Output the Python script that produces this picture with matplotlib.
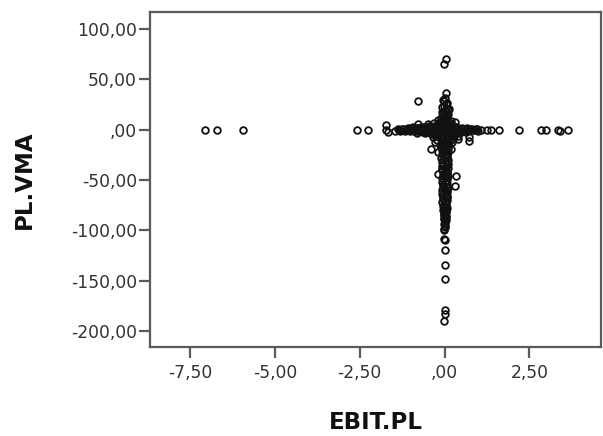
import matplotlib
matplotlib.use("Agg")
import matplotlib.pyplot as plt

# ---- data ----
stray_x = [-7.05, -6.72, -5.94, -2.57, -2.25, -1.74, -1.74, -1.68, -1.45,
           -0.77, 0.03, 0.12, -0.77, -0.50, -0.41, -0.18, 0.18, 0.41, 0.71, 0.71,
           0.35, 0.30, -0.18,
           1.06, 1.24, 1.36, 1.60, 2.19, 2.84, 2.98, 3.34, 3.40, 3.63,
           0.05, -0.03,
           -0.03, -0.02, 0.00, 0.00, 0.02, 0.00, 0.00, 0.00, -0.01]
stray_y = [0.0, 0.0, 0.0, 0.0, 0.0, 5.0, 0.0, -2.0, -1.0,
           29.0, 36.0, 21.0, 6.0, 6.0, -19.0, -22.0, -19.0, -9.0, -11.0, -7.0,
           -46.0, -56.0, -44.0,
           0.0, 0.0, 0.0, 0.0, 0.0, 0.0, 0.0, 0.0, -1.5, 0.0,
           70.5, 65.5,
           -100.0, -109.0, -110.0, -120.0, -134.0, -148.0, -179.0, -183.0, -190.0]

harm_x = [-1.38, -1.30, -1.22, -1.15, -1.08, -1.01, -0.95, -0.88, -0.82, -0.76,
          -0.70, -0.64, -0.58, -0.52, -0.47, -0.42, -0.37, -0.32, -0.27, -0.22,
          -0.18, -0.14, -0.10, -0.06, -0.03, 0.00, 0.03, 0.06, 0.10, 0.14,
          0.18, 0.23, 0.28, 0.33, 0.38, 0.44, 0.50, 0.56, 0.62, 0.69,
          0.76, 0.84, 0.92, 1.00]
harm_y = [0.5, -1.0, 0.8, -0.3, 1.2, -1.5, 0.2, -0.8, 1.6, -1.2,
          0.9, -2.0, 1.8, -0.6, 2.2, -1.8, 1.0, -2.4, 2.6, -1.1,
          1.9, -2.8, 3.0, -1.6, 2.4, -3.2, 2.8, -2.2, 1.5, -2.6,
          2.0, -1.4, 1.2, -2.0, 0.7, -1.5, 1.0, -0.9, 0.4, -1.2,
          0.6, -0.5, 0.3, -0.8]

harm2_x = [-1.34, -1.26, -1.18, -1.11, -1.04, -0.98, -0.91, -0.85, -0.79, -0.73,
           -0.67, -0.61, -0.55, -0.49, -0.44, -0.39, -0.34, -0.29, -0.24, -0.20,
           -0.16, -0.12, -0.08, -0.04, 0.01, 0.05, 0.08, 0.12, 0.16, 0.21,
           0.26, 0.31, 0.36, 0.41, 0.47, 0.53, 0.59, 0.66, 0.73, 0.80,
           0.88, 0.96]
harm2_y = [-0.6, 0.9, -1.3, 1.0, -0.5, 1.4, -1.7, 1.9, -0.9, 2.0,
           -1.4, 2.4, -2.6, 1.5, -2.9, 2.7, -1.9, 3.3, -3.0, 2.1,
           -3.6, 3.8, -2.5, 4.2, -4.4, 3.5, -4.0, 2.9, -3.3, 1.8,
           -2.6, 2.5, -1.7, 1.8, -2.2, 0.9, -1.6, 1.3, -0.7, 1.1,
           -0.4, 0.6]

core_x = [-0.92, -0.80, -0.68, -0.57, -0.46, -0.36, -0.27, -0.19, -0.12, -0.05,
          0.02, 0.09, 0.16, 0.24, 0.33, 0.42, 0.52, 0.63,
          -0.25, -0.15, -0.08, 0.05, 0.12, 0.20, 0.28]
core_y = [2.5, -3.1, 2.8, -3.5, 3.2, -4.0, 3.6, -4.5, 4.1, -5.0,
          5.2, -4.6, 3.9, -3.8, 3.0, -3.2, 2.1, -2.6,
          -6.5, 6.8, -8.0, 8.5, -7.0, 5.5, -5.8]

core2_x = [-0.35, -0.30, -0.22, -0.10, -0.02, 0.08, 0.15, 0.25, 0.32, 0.40,
           -0.28, -0.12, 0.10, 0.22, -0.20, 0.18, -0.05, 0.06]
core2_y = [-7.5, 7.0, -10.0, 10.5, -12.0, 12.0, -10.5, -9.0, 7.5, -6.5,
           -12.5, -15.0, -14.0, -12.5, 9.5, 9.0, -17.0, 14.5]

varm_x = [0.02, -0.01, 0.04, -0.03, 0.05, 0.01, -0.04, 0.06, -0.02, 0.03,
          -0.05, 0.07, -0.06, 0.08, -0.03, 0.05, -0.07, 0.09, -0.02, 0.06,
          -0.05, 0.04, 0.08, -0.06, 0.02, 0.07, -0.04, 0.05, -0.07, 0.03,
          0.08, -0.03, 0.06, -0.05, 0.04, 0.01, -0.06, 0.07, -0.02, 0.05,
          -0.04, 0.03, 0.06, -0.05, 0.02, 0.04, -0.03, 0.05, -0.02, 0.03,
          0.01, -0.03, 0.04, -0.01, 0.02, 0.00, 0.01, -0.01]
varm_y = [32, 29, 26, 24, 21, 19, 17, 15, 13, 11, 9, 8,
          -7, -9, -11, -13, -15, -17, -19, -21, -23, -25, -27, -29, -31, -33,
          -35, -37, -39, -41, -43, -45, -47, -49, -51, -53, -55, -57, -59, -61,
          -63, -65, -67, -69, -71, -73, -75, -77, -79, -81, -83, -85, -87, -89,
          -91, -93, -96, -99]

varm2_x = [-0.06, 0.07, -0.08, 0.09, -0.07, 0.10, -0.09, 0.08, -0.10, 0.11,
           -0.09, 0.10, -0.08, 0.11, -0.10, 0.09, -0.07, 0.10, -0.09, 0.08,
           -0.10, 0.09, -0.08, 0.10, -0.07, 0.09, -0.09, 0.08, -0.06, 0.10,
           -0.08, 0.07, -0.09, 0.08, -0.06, 0.09, -0.07, 0.06, -0.08, 0.07,
           -0.05, 0.06, -0.07, 0.05, -0.04, 0.06, -0.05, 0.04, -0.03, 0.05,
           -0.02, 0.03, -0.02, 0.02]
varm2_y = [30, 27, 23, 20, 18, 16, 14, 12, 10,
           -6, -8, -10, -12, -14, -16, -18, -20, -22, -24, -26, -28, -30, -32,
           -34, -36, -38, -40, -42, -44, -46, -48, -50, -52, -54, -56, -58, -60,
           -62, -64, -66, -68, -70, -72, -74, -76, -78, -80, -82, -84, -86, -88,
           -90, -94, -97]

xticks = [-7.5, -5.0, -2.5, 0.0, 2.5]
xtick_labels = ['-7,50', '-5,00', '-2,50', ',00', '2,50']
yticks = [100, 50, 0, -50, -100, -150, -200]
ytick_labels = ['100,00', '50,00', ',00', '-50,00', '-100,00', '-150,00', '-200,00']

x_label = 'EBIT.PL'
y_label = 'PL.VMA'

# ---- figure ----
fig = plt.figure(figsize=(6.03, 4.36), dpi=100)
ax = fig.add_axes([150/603, 89/436, 451/603, 335/436])

all_x = stray_x + harm_x + harm2_x + core_x + core2_x + varm_x + varm2_x
all_y = stray_y + harm_y + harm2_y + core_y + core2_y + varm_y + varm2_y
ax.plot(all_x, all_y, linestyle='none', marker='o', markersize=4.8,
        markerfacecolor='none', markeredgecolor='#111111', markeredgewidth=1.3)

ax.set_xlim(-8.68, 4.61)
ax.set_ylim(-216.0, 117.0)

ax.set_xticks(xticks)
ax.set_xticklabels(xtick_labels)
ax.set_yticks(yticks)
ax.set_yticklabels(ytick_labels)

frame_col = '#5a5a5a'
for s in ax.spines.values():
    s.set_color(frame_col)
    s.set_linewidth(1.6)
ax.tick_params(axis='both', direction='out', length=8, width=1.6,
               color=frame_col, labelcolor='#333333', labelsize=12.3)
ax.tick_params(axis='y', pad=1.5)
ax.tick_params(axis='x', pad=4)

ax.set_xlabel(x_label, fontsize=16.5, fontweight='bold', labelpad=21, color='#111111')
ax.set_ylabel(y_label, fontsize=16.5, fontweight='bold', labelpad=25, color='#111111')

fig.savefig('out.png', dpi=100)
